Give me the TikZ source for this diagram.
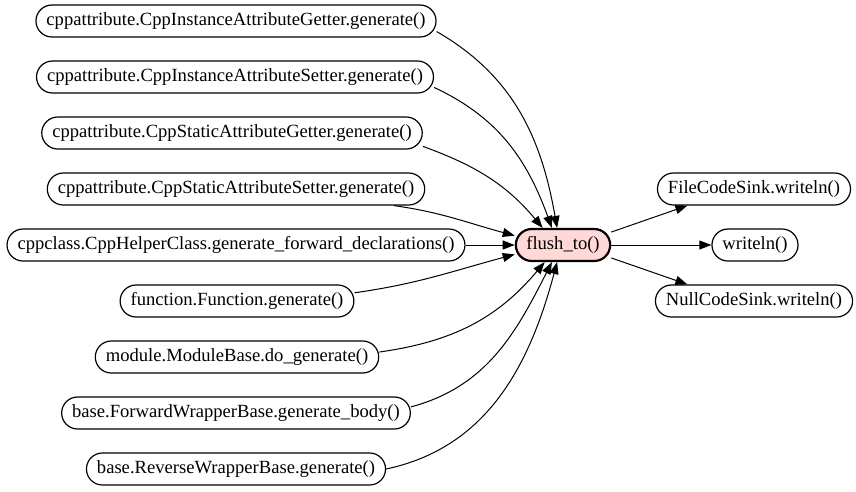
\documentclass[tikz,border=0pt]{standalone}
\usepackage{fontspec}
\setmainfont{Liberation Serif}
\usetikzlibrary{arrows.meta}

\definecolor{flushpink}{RGB}{255,216,216}

\tikzset{
	func/.style={draw, line width=1.2pt, rounded corners=16pt, minimum height=32pt,
		inner xsep=10.5pt, font=\fontsize{18.6}{22}\selectfont},
	focus/.style={func, line width=2.2pt, fill=flushpink},
	call/.style={line width=1pt, -{Triangle[length=12pt,width=9pt]}}
}

\begin{document}
\begin{tikzpicture}[x=1pt,y=-1pt]
	\useasboundingbox (0,0) rectangle (856,491);
	
	% Callers
	\node[func] (getA) at (236,21) {cppattribute.CppInstanceAttributeGetter.generate()};
	\node[func] (setA) at (235,77) {cppattribute.CppInstanceAttributeSetter.generate()};
	\node[func] (getS) at (232,133) {cppattribute.CppStaticAttributeGetter.generate()};
	\node[func] (setS) at (236,189) {cppattribute.CppStaticAttributeSetter.generate()};
	\node[func] (helper) at (236,245) {cppclass.CppHelperClass.generate\_forward\_declarations()};
	\node[func] (func) at (237,301) {function.Function.generate()};
	\node[func] (module) at (237,357) {module.ModuleBase.do\_generate()};
	\node[func] (fwd) at (236,413) {base.ForwardWrapperBase.generate\_body()};
	\node[func] (rev) at (236,469) {base.ReverseWrapperBase.generate()};
	
	% Centre
	\node[focus] (flush) at (563,245) {flush\_to()};
	
	% Callees
	\node[func] (file) at (754,189) {FileCodeSink.writeln()};
	\node[func] (writeln) at (755,245) {writeln()};
	\node[func] (null) at (754,301) {NullCodeSink.writeln()};
	
	% Incoming calls
	\draw[call] (getA.-3) to[out=-30,in=100] (flush.109);
	\draw[call] (setA.-3) to[out=-25,in=110] (flush.123);
	\draw[call] (getS.-4) to[out=-20,in=130] (flush.140);
	\draw[call] (setS.-6) to[out=-8,in=165] (flush.169);
	\draw[call] (helper) -- (flush);
	\draw[call] (func.4) to[out=8,in=195] (flush.191);
	\draw[call] (module.2) to[out=8,in=230] (flush.223);
	\draw[call] (fwd.2) to[out=15,in=243] (flush.237);
	\draw[call] (rev.0) to[out=12,in=255] (flush.251);
	
	% Outgoing calls
	\draw[call] (flush.15) -- (file.194);
	\draw[call] (flush) -- (writeln);
	\draw[call] (flush.-15) -- (null.166);
	
\end{tikzpicture}
\end{document}
